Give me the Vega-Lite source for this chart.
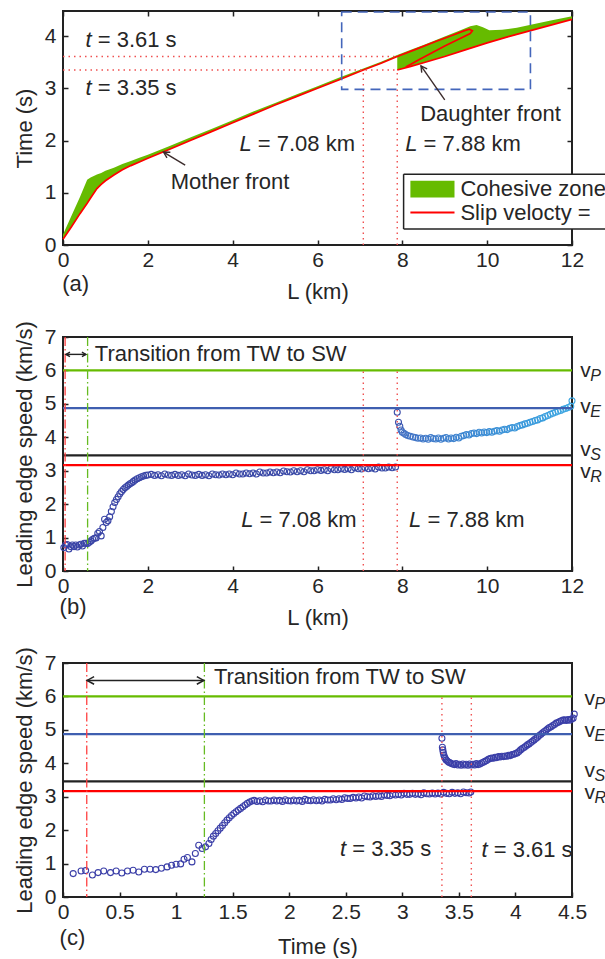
{
"$schema": "https://vega.github.io/schema/vega-lite/v6.json",
"padding": {"left": 12, "top": 9, "right": 0, "bottom": 0},
"spacing": 92,
"bounds": "flush",
"config": {
  "font": "Liberation Sans",
  "view": {"stroke": "#222222", "strokeWidth": 2},
  "axis": {"grid": false, "domain": false, "tickColor": "#222222", "tickWidth": 1.5, "tickSize": -5, "labelFontSize": 21, "labelColor": "#262626", "labelPadding": 12, "labelFlush": false, "labelOverlap": false, "titleFontSize": 22, "titleFontWeight": "normal", "titleColor": "#262626", "titlePadding": 8},
  "axisX": {"labelPadding": 9},
  "text": {"fontSize": 22, "color": "#262626", "baseline": "middle", "align": "left"}
},
"datasets": {
  "cohA": [
    {"seg":"m","L":0,"lo":0.11,"hi":0.2},{"seg":"m","L":0.2,"lo":0.35,"hi":0.56},{"seg":"m","L":0.4,"lo":0.6,"hi":0.92},{"seg":"m","L":0.57,"lo":0.8,"hi":1.25},{"seg":"m","L":0.65,"lo":0.9,"hi":1.29},{"seg":"m","L":0.8,"lo":1.08,"hi":1.35},{"seg":"m","L":0.9,"lo":1.16,"hi":1.38},{"seg":"m","L":1.0,"lo":1.23,"hi":1.42},{"seg":"m","L":1.2,"lo":1.34,"hi":1.48},{"seg":"m","L":1.4,"lo":1.44,"hi":1.55},{"seg":"m","L":1.6,"lo":1.52,"hi":1.61},{"seg":"m","L":1.8,"lo":1.59,"hi":1.67},{"seg":"m","L":2.0,"lo":1.66,"hi":1.73},{"seg":"m","L":2.5,"lo":1.83,"hi":1.89},{"seg":"m","L":3.0,"lo":2.0,"hi":2.06},{"seg":"m","L":3.5,"lo":2.17,"hi":2.22},{"seg":"m","L":4.0,"lo":2.34,"hi":2.39},{"seg":"m","L":4.5,"lo":2.51,"hi":2.56},{"seg":"m","L":5.0,"lo":2.68,"hi":2.72},{"seg":"m","L":5.5,"lo":2.84,"hi":2.88},{"seg":"m","L":6.0,"lo":3.0,"hi":3.04},{"seg":"m","L":6.5,"lo":3.16,"hi":3.2},{"seg":"m","L":7.08,"lo":3.35,"hi":3.38},{"seg":"m","L":7.5,"lo":3.48,"hi":3.51},{"seg":"m","L":7.88,"lo":3.61,"hi":3.64},
    {"seg":"d","L":7.88,"lo":3.35,"hi":3.64},{"seg":"d","L":8.2,"lo":3.42,"hi":3.74},{"seg":"d","L":8.5,"lo":3.49,"hi":3.83},{"seg":"d","L":9.0,"lo":3.61,"hi":3.99},{"seg":"d","L":9.4,"lo":3.71,"hi":4.12},{"seg":"d","L":9.6,"lo":3.76,"hi":4.19},{"seg":"d","L":9.75,"lo":3.8,"hi":4.21},{"seg":"d","L":9.9,"lo":3.84,"hi":4.17},{"seg":"d","L":10.05,"lo":3.88,"hi":4.11},{"seg":"d","L":10.35,"lo":3.95,"hi":4.12},{"seg":"d","L":10.7,"lo":4.03,"hi":4.16},{"seg":"d","L":11.0,"lo":4.1,"hi":4.21},{"seg":"d","L":11.5,"lo":4.21,"hi":4.3},{"seg":"d","L":12.0,"lo":4.32,"hi":4.38}
  ],
  "frontA": [
    {"seg":"m","o":0,"L":0,"t":0.11},{"seg":"m","o":1,"L":0.2,"t":0.35},{"seg":"m","o":2,"L":0.4,"t":0.6},{"seg":"m","o":3,"L":0.57,"t":0.8},{"seg":"m","o":4,"L":0.65,"t":0.9},{"seg":"m","o":5,"L":0.8,"t":1.08},{"seg":"m","o":6,"L":0.9,"t":1.16},{"seg":"m","o":7,"L":1.0,"t":1.23},{"seg":"m","o":8,"L":1.2,"t":1.34},{"seg":"m","o":9,"L":1.4,"t":1.44},{"seg":"m","o":10,"L":1.6,"t":1.52},{"seg":"m","o":11,"L":1.8,"t":1.59},{"seg":"m","o":12,"L":2.0,"t":1.66},{"seg":"m","o":13,"L":2.5,"t":1.83},{"seg":"m","o":14,"L":3.0,"t":2.0},{"seg":"m","o":15,"L":3.5,"t":2.17},{"seg":"m","o":16,"L":4.0,"t":2.34},{"seg":"m","o":17,"L":4.5,"t":2.51},{"seg":"m","o":18,"L":5.0,"t":2.68},{"seg":"m","o":19,"L":5.5,"t":2.84},{"seg":"m","o":20,"L":6.0,"t":3.0},{"seg":"m","o":21,"L":6.5,"t":3.16},{"seg":"m","o":22,"L":7.08,"t":3.35},{"seg":"m","o":23,"L":7.5,"t":3.48},{"seg":"m","o":24,"L":7.88,"t":3.61},{"seg":"m","o":25,"L":8.3,"t":3.74},{"seg":"m","o":26,"L":8.8,"t":3.9},{"seg":"m","o":27,"L":9.2,"t":4.02},{"seg":"m","o":28,"L":9.45,"t":4.1},{"seg":"m","o":29,"L":9.58,"t":4.13},{"seg":"m","o":30,"L":9.65,"t":4.1},{"seg":"m","o":31,"L":9.6,"t":4.05},{"seg":"m","o":32,"L":9.35,"t":3.95},{"seg":"m","o":33,"L":9.0,"t":3.81},{"seg":"m","o":34,"L":8.7,"t":3.68},{"seg":"m","o":35,"L":8.4,"t":3.55},{"seg":"m","o":36,"L":8.2,"t":3.46},{"seg":"m","o":37,"L":8.08,"t":3.41},
    {"seg":"d","o":0,"L":7.88,"t":3.35},{"seg":"d","o":1,"L":8.2,"t":3.42},{"seg":"d","o":2,"L":8.5,"t":3.49},{"seg":"d","o":3,"L":9.0,"t":3.61},{"seg":"d","o":4,"L":9.5,"t":3.74},{"seg":"d","o":5,"L":10.0,"t":3.87},{"seg":"d","o":6,"L":10.5,"t":3.99},{"seg":"d","o":7,"L":11.0,"t":4.1},{"seg":"d","o":8,"L":11.5,"t":4.21},{"seg":"d","o":9,"L":12.0,"t":4.32}
  ],
  "bData": [
    {"L":0.02,"v":0.70},{"L":0.06,"v":0.78},{"L":0.10,"v":0.79},{"L":0.14,"v":0.66},{"L":0.18,"v":0.73},{"L":0.22,"v":0.78},{"L":0.26,"v":0.73},{"L":0.30,"v":0.78},{"L":0.34,"v":0.72},{"L":0.38,"v":0.78},{"L":0.42,"v":0.80},{"L":0.46,"v":0.75},{"L":0.50,"v":0.83},{"L":0.54,"v":0.83},{"L":0.58,"v":0.82},{"L":0.62,"v":0.86},{"L":0.66,"v":0.90},{"L":0.70,"v":0.95},{"L":0.74,"v":0.98},{"L":0.78,"v":0.99},{"L":0.82,"v":1.13},{"L":0.86,"v":1.18},{"L":0.90,"v":1.05},{"L":0.94,"v":1.30},{"L":0.98,"v":1.55},{"L":1.02,"v":1.45},{"L":1.06,"v":1.50},{"L":1.10,"v":1.62},{"L":1.14,"v":1.78},{"L":1.18,"v":1.92},{"L":1.22,"v":2.05},{"L":1.26,"v":2.14},{"L":1.30,"v":2.22},{"L":1.34,"v":2.31},{"L":1.38,"v":2.38},{"L":1.42,"v":2.44},{"L":1.46,"v":2.49},{"L":1.50,"v":2.53},{"L":1.54,"v":2.57},{"L":1.58,"v":2.61},{"L":1.62,"v":2.64},{"L":1.66,"v":2.68},{"L":1.70,"v":2.72},{"L":1.75,"v":2.76},{"L":1.80,"v":2.79},{"L":1.85,"v":2.82},{"L":1.90,"v":2.84},{"L":1.95,"v":2.86},{"L":2.00,"v":2.87},
    {"L":2.08,"v":2.89},{"L":2.16,"v":2.86},{"L":2.24,"v":2.88},{"L":2.32,"v":2.85},{"L":2.40,"v":2.90},{"L":2.48,"v":2.87},{"L":2.56,"v":2.86},{"L":2.64,"v":2.89},{"L":2.72,"v":2.86},{"L":2.80,"v":2.88},{"L":2.88,"v":2.85},{"L":2.96,"v":2.90},{"L":3.04,"v":2.87},{"L":3.12,"v":2.86},{"L":3.20,"v":2.89},{"L":3.28,"v":2.86},{"L":3.36,"v":2.88},{"L":3.44,"v":2.85},{"L":3.52,"v":2.90},{"L":3.60,"v":2.88},{"L":3.68,"v":2.87},{"L":3.76,"v":2.90},{"L":3.84,"v":2.88},{"L":3.92,"v":2.90},{"L":4.00,"v":2.88},{"L":4.08,"v":2.93},{"L":4.16,"v":2.90},{"L":4.24,"v":2.90},{"L":4.32,"v":2.93},{"L":4.40,"v":2.91},{"L":4.48,"v":2.93},{"L":4.56,"v":2.90},{"L":4.64,"v":2.96},{"L":4.72,"v":2.93},{"L":4.80,"v":2.93},{"L":4.88,"v":2.96},{"L":4.96,"v":2.94},{"L":5.04,"v":2.96},{"L":5.12,"v":2.94},{"L":5.20,"v":2.99},{"L":5.28,"v":2.97},{"L":5.36,"v":2.96},{"L":5.44,"v":3.00},{"L":5.52,"v":2.97},{"L":5.60,"v":3.00},{"L":5.68,"v":2.97},{"L":5.76,"v":3.03},{"L":5.84,"v":3.00},{"L":5.92,"v":3.00},{"L":6.00,"v":3.03},{"L":6.08,"v":3.01},{"L":6.16,"v":3.03},{"L":6.24,"v":3.00},{"L":6.32,"v":3.06},{"L":6.40,"v":3.03},{"L":6.48,"v":3.03},{"L":6.56,"v":3.06},{"L":6.64,"v":3.04},{"L":6.72,"v":3.06},{"L":6.80,"v":3.03},{"L":6.88,"v":3.09},{"L":6.96,"v":3.06},{"L":7.04,"v":3.05},{"L":7.12,"v":3.09},{"L":7.20,"v":3.06},{"L":7.28,"v":3.08},{"L":7.36,"v":3.05},{"L":7.44,"v":3.11},{"L":7.52,"v":3.08},{"L":7.60,"v":3.08},{"L":7.68,"v":3.11},{"L":7.76,"v":3.09},{"L":7.84,"v":3.11},
    {"L":7.88,"v":4.75},{"L":7.91,"v":4.45},{"L":7.94,"v":4.33},{"L":7.97,"v":4.22},{"L":8.00,"v":4.15},{"L":8.04,"v":4.12},{"L":8.08,"v":4.08},{"L":8.13,"v":4.05},{"L":8.19,"v":4.03},{"L":8.25,"v":4.01},{"L":8.31,"v":3.99},{"L":8.37,"v":3.97},{"L":8.43,"v":3.98},{"L":8.49,"v":3.95},{"L":8.55,"v":3.97},{"L":8.61,"v":3.94},{"L":8.67,"v":3.99},{"L":8.73,"v":3.96},{"L":8.79,"v":3.95},{"L":8.85,"v":3.98},{"L":8.91,"v":3.94},{"L":8.97,"v":3.97},{"L":9.03,"v":3.99},{"L":9.09,"v":3.95},{"L":9.15,"v":3.98},{"L":9.21,"v":3.96},{"L":9.27,"v":4.00},{"L":9.33,"v":3.98},{"L":9.39,"v":4.03},{"L":9.45,"v":4.05},{"L":9.51,"v":4.08},{"L":9.57,"v":4.07},{"L":9.63,"v":4.11},{"L":9.69,"v":4.13},{"L":9.75,"v":4.11},{"L":9.81,"v":4.15},{"L":9.87,"v":4.13},{"L":9.93,"v":4.16},{"L":9.99,"v":4.14},{"L":10.05,"v":4.17},{"L":10.11,"v":4.15},{"L":10.17,"v":4.18},{"L":10.23,"v":4.20},{"L":10.29,"v":4.18},{"L":10.35,"v":4.22},{"L":10.41,"v":4.24},{"L":10.47,"v":4.23},{"L":10.53,"v":4.27},{"L":10.59,"v":4.29},{"L":10.65,"v":4.28},{"L":10.71,"v":4.32},{"L":10.77,"v":4.35},{"L":10.83,"v":4.37},{"L":10.89,"v":4.40},{"L":10.95,"v":4.42},{"L":11.01,"v":4.45},{"L":11.07,"v":4.47},{"L":11.13,"v":4.50},{"L":11.19,"v":4.52},{"L":11.25,"v":4.56},{"L":11.31,"v":4.58},{"L":11.37,"v":4.62},{"L":11.43,"v":4.65},{"L":11.49,"v":4.69},{"L":11.55,"v":4.72},{"L":11.61,"v":4.75},{"L":11.67,"v":4.78},{"L":11.73,"v":4.80},{"L":11.79,"v":4.84},{"L":11.85,"v":4.86},{"L":11.91,"v":4.89},{"L":11.97,"v":4.93},{"L":12.00,"v":5.09}
  ],
  "cData": [
    {"t":0.09,"v":0.70},{"t":0.16,"v":0.78},{"t":0.20,"v":0.79},{"t":0.26,"v":0.66},{"t":0.31,"v":0.73},{"t":0.36,"v":0.78},{"t":0.42,"v":0.73},{"t":0.47,"v":0.78},{"t":0.52,"v":0.72},{"t":0.57,"v":0.78},{"t":0.62,"v":0.80},{"t":0.67,"v":0.75},{"t":0.72,"v":0.83},{"t":0.77,"v":0.83},{"t":0.82,"v":0.82},{"t":0.87,"v":0.86},{"t":0.92,"v":0.90},{"t":0.96,"v":0.95},{"t":1.00,"v":0.98},{"t":1.04,"v":0.99},{"t":1.07,"v":1.13},{"t":1.10,"v":1.18},{"t":1.14,"v":1.05},{"t":1.17,"v":1.30},{"t":1.20,"v":1.55},{"t":1.23,"v":1.45},
    {"t":1.26,"v":1.50},{"t":1.29,"v":1.60},{"t":1.31,"v":1.72},{"t":1.33,"v":1.82},{"t":1.35,"v":1.90},{"t":1.37,"v":1.98},{"t":1.39,"v":2.06},{"t":1.41,"v":2.14},{"t":1.43,"v":2.22},{"t":1.45,"v":2.30},{"t":1.47,"v":2.37},{"t":1.49,"v":2.44},{"t":1.51,"v":2.50},{"t":1.53,"v":2.55},{"t":1.55,"v":2.60},{"t":1.57,"v":2.65},{"t":1.59,"v":2.70},{"t":1.61,"v":2.75},{"t":1.63,"v":2.80},{"t":1.65,"v":2.84},{"t":1.67,"v":2.87},
    {"t":1.690,"v":2.89},{"t":1.715,"v":2.86},{"t":1.740,"v":2.88},{"t":1.765,"v":2.85},{"t":1.790,"v":2.90},{"t":1.815,"v":2.87},{"t":1.840,"v":2.87},{"t":1.865,"v":2.90},{"t":1.890,"v":2.87},{"t":1.915,"v":2.89},{"t":1.940,"v":2.86},{"t":1.965,"v":2.91},{"t":1.990,"v":2.88},{"t":2.015,"v":2.87},{"t":2.040,"v":2.90},{"t":2.065,"v":2.87},{"t":2.090,"v":2.89},{"t":2.115,"v":2.86},{"t":2.140,"v":2.92},{"t":2.165,"v":2.89},{"t":2.190,"v":2.88},{"t":2.215,"v":2.91},{"t":2.240,"v":2.88},{"t":2.265,"v":2.90},{"t":2.290,"v":2.87},{"t":2.315,"v":2.92},{"t":2.340,"v":2.90},{"t":2.365,"v":2.90},{"t":2.390,"v":2.94},{"t":2.415,"v":2.91},{"t":2.440,"v":2.94},{"t":2.465,"v":2.92},{"t":2.490,"v":2.97},{"t":2.515,"v":2.95},{"t":2.540,"v":2.95},{"t":2.565,"v":2.98},{"t":2.590,"v":2.96},{"t":2.615,"v":2.99},{"t":2.640,"v":2.96},{"t":2.665,"v":3.02},{"t":2.690,"v":3.00},{"t":2.715,"v":2.99},{"t":2.740,"v":3.03},{"t":2.765,"v":3.01},{"t":2.790,"v":3.03},{"t":2.815,"v":3.01},{"t":2.840,"v":3.06},{"t":2.865,"v":3.04},{"t":2.890,"v":3.03},{"t":2.915,"v":3.07},{"t":2.940,"v":3.05},{"t":2.965,"v":3.07},{"t":2.990,"v":3.05},{"t":3.015,"v":3.10},{"t":3.040,"v":3.07},{"t":3.065,"v":3.07},{"t":3.090,"v":3.10},{"t":3.115,"v":3.07},{"t":3.140,"v":3.09},{"t":3.165,"v":3.06},{"t":3.190,"v":3.12},{"t":3.215,"v":3.09},{"t":3.240,"v":3.08},{"t":3.265,"v":3.11},{"t":3.290,"v":3.08},{"t":3.315,"v":3.11},{"t":3.340,"v":3.08},{"t":3.365,"v":3.13},{"t":3.390,"v":3.10},{"t":3.415,"v":3.09},{"t":3.440,"v":3.13},{"t":3.465,"v":3.10},{"t":3.490,"v":3.12},{"t":3.515,"v":3.09},{"t":3.540,"v":3.14},{"t":3.565,"v":3.12},{"t":3.590,"v":3.11},{"t":3.605,"v":3.14},
    {"t":3.350,"v":4.75},{"t":3.354,"v":4.48},{"t":3.358,"v":4.40},{"t":3.362,"v":4.32},{"t":3.367,"v":4.25},{"t":3.373,"v":4.19},{"t":3.380,"v":4.14},{"t":3.388,"v":4.10},{"t":3.397,"v":4.07},{"t":3.407,"v":4.04},{"t":3.418,"v":4.02},{"t":3.430,"v":4.00},{"t":3.445,"v":3.98},{"t":3.460,"v":3.96},{"t":3.475,"v":3.99},{"t":3.490,"v":3.95},{"t":3.505,"v":3.97},{"t":3.520,"v":3.94},{"t":3.535,"v":3.98},{"t":3.550,"v":3.95},{"t":3.565,"v":3.97},{"t":3.580,"v":3.94},{"t":3.595,"v":3.98},{"t":3.610,"v":3.95},{"t":3.625,"v":3.97},{"t":3.640,"v":3.95},{"t":3.655,"v":3.99},{"t":3.670,"v":3.96},{"t":3.685,"v":3.98},{"t":3.700,"v":4.01},{"t":3.715,"v":4.03},{"t":3.730,"v":4.06},{"t":3.745,"v":4.08},{"t":3.760,"v":4.12},{"t":3.775,"v":4.14},{"t":3.790,"v":4.16},{"t":3.805,"v":4.15},{"t":3.820,"v":4.18},{"t":3.835,"v":4.17},{"t":3.850,"v":4.20},{"t":3.865,"v":4.19},{"t":3.880,"v":4.21},{"t":3.895,"v":4.20},{"t":3.910,"v":4.22},{"t":3.925,"v":4.21},{"t":3.940,"v":4.24},{"t":3.955,"v":4.23},{"t":3.970,"v":4.26},{"t":3.985,"v":4.27},{"t":4.000,"v":4.29},{"t":4.015,"v":4.31},{"t":4.030,"v":4.35},{"t":4.045,"v":4.40},{"t":4.060,"v":4.44},{"t":4.075,"v":4.47},{"t":4.090,"v":4.51},{"t":4.105,"v":4.55},{"t":4.120,"v":4.58},{"t":4.135,"v":4.62},{"t":4.150,"v":4.66},{"t":4.165,"v":4.70},{"t":4.180,"v":4.74},{"t":4.195,"v":4.78},{"t":4.210,"v":4.83},{"t":4.225,"v":4.87},{"t":4.240,"v":4.91},{"t":4.255,"v":4.95},{"t":4.270,"v":4.99},{"t":4.285,"v":5.03},{"t":4.300,"v":5.07},{"t":4.315,"v":5.09},{"t":4.330,"v":5.13},{"t":4.345,"v":5.16},{"t":4.360,"v":5.20},{"t":4.375,"v":5.22},{"t":4.390,"v":5.25},{"t":4.405,"v":5.27},{"t":4.420,"v":5.29},{"t":4.435,"v":5.30},{"t":4.450,"v":5.28},{"t":4.465,"v":5.31},{"t":4.480,"v":5.29},{"t":4.495,"v":5.32},{"t":4.510,"v":5.35},{"t":4.520,"v":5.47}
  ],
  "waves": [{"k":"P","v":6.0},{"k":"E","v":4.87},{"k":"S","v":3.46},{"k":"R","v":3.17}],
  "wlabB": [{"k":"P","ly":5.97},{"k":"E","ly":4.92},{"k":"S","ly":3.62},{"k":"R","ly":2.95}],
  "wlabC": [{"k":"P","ly":5.93},{"k":"E","ly":4.98},{"k":"S","ly":3.78},{"k":"R","ly":3.1}]
},
"vconcat": [
{
  "width": 509, "height": 234,
  "resolve": {"axis": {"x": "independent", "y": "independent"}},
  "layer": [
    {"data": {"name": "cohA"}, "mark": {"type": "area", "color": "#66bb00", "opacity": 1},
     "encoding": {
       "x": {"field": "L", "type": "quantitative", "scale": {"domain": [0, 12], "nice": false, "zero": false}, "axis": {"values": [0,2,4,6,8,10,12], "title": "L (km)", "format": "~g", "labelOverlap": false, "titlePadding": 11}},
       "y": {"field": "lo", "type": "quantitative", "scale": {"domain": [0, 4.48], "nice": false, "zero": false}, "axis": {"values": [0,1,2,3,4], "title": "Time (s)", "format": "~g", "labelOverlap": false}},
       "y2": {"field": "hi"},
       "detail": {"field": "seg"}}},
    {"data": {"name": "frontA"}, "mark": {"type": "line", "color": "#ff0000", "strokeWidth": 1.7},
     "encoding": {
       "x": {"field": "L", "type": "quantitative", "axis": {"orient": "top", "labels": false, "title": null, "values": [0,2,4,6,8,10,12]}},
       "y": {"field": "t", "type": "quantitative", "axis": {"orient": "right", "labels": false, "title": null, "values": [0,1,2,3,4]}},
       "detail": {"field": "seg"}, "order": {"field": "o"}}},
    {"data": {"values": [{"x":0,"x2":7.88,"y":3.61,"y2":3.61},{"x":0,"x2":7.88,"y":3.35,"y2":3.35},{"x":7.08,"x2":7.08,"y":0,"y2":3.35},{"x":7.88,"x2":7.88,"y":0,"y2":3.35}]},
     "mark": {"type": "rule", "color": "#f05050", "strokeDash": [1.5, 4], "strokeWidth": 1.4},
     "encoding": {"x": {"field": "x", "type": "quantitative", "axis": null}, "x2": {"field": "x2"}, "y": {"field": "y", "type": "quantitative", "axis": null}, "y2": {"field": "y2"}}},
    {"data": {"values": [{"x":6.57,"x2":11.02,"y":2.98,"y2":4.46}]},
     "mark": {"type": "rect", "fill": null, "fillOpacity": 0, "stroke": "#4466bb", "strokeDash": [10, 6], "strokeWidth": 1.6},
     "encoding": {"x": {"field": "x", "type": "quantitative", "axis": null}, "x2": {"field": "x2"}, "y": {"field": "y", "type": "quantitative", "axis": null}, "y2": {"field": "y2"}}},
    {"data": {"values": [{"name":"m","x":2.88,"y":1.53,"x2":2.37,"y2":1.78},{"name":"d","x":9.0,"y":2.78,"x2":8.44,"y2":3.43}]},
     "mark": {"type": "rule", "color": "#3b2b2b", "strokeWidth": 1.4},
     "encoding": {"x": {"field": "x", "type": "quantitative", "axis": null}, "x2": {"field": "x2"}, "y": {"field": "y", "type": "quantitative", "axis": null}, "y2": {"field": "y2"}}},
    {"data": {"values": [{"name":"m","x2":2.37,"y2":1.78}]},
     "mark": {"type": "point", "shape": "M-1,-0.55L0,0L-1,0.55", "filled": false, "size": 144, "strokeWidth": 1.4, "color": "#3b2b2b", "opacity": 1, "angle": 211},
     "encoding": {"x": {"field": "x2", "type": "quantitative", "axis": null}, "y": {"field": "y2", "type": "quantitative", "axis": null}}},
    {"data": {"values": [{"name":"d","x2":8.44,"y2":3.43}]},
     "mark": {"type": "point", "shape": "M-1,-0.55L0,0L-1,0.55", "filled": false, "size": 144, "strokeWidth": 1.4, "color": "#3b2b2b", "opacity": 1, "angle": 235},
     "encoding": {"x": {"field": "x2", "type": "quantitative", "axis": null}, "y": {"field": "y2", "type": "quantitative", "axis": null}}},
    {"data": {"values": [{"x":2.54,"y":1.21,"label":"Mother front"},{"x":8.42,"y":2.5,"label":"Daughter front"},{"x":-0.02,"y":-0.75,"label":"(a)"}]},
     "mark": {"type": "text", "align": "left"},
     "encoding": {"x": {"field": "x", "type": "quantitative", "axis": null}, "y": {"field": "y", "type": "quantitative", "axis": null}, "text": {"field": "label"}}},
    {"data": {"values": [{"x":0.53,"y":3.92,"rest":"= 3.61 s"},{"x":0.53,"y":3.01,"rest":"= 3.35 s"}]},
     "layer": [
       {"mark": {"type": "text", "text": "t", "fontStyle": "italic"}, "encoding": {"x": {"field": "x", "type": "quantitative", "axis": null}, "y": {"field": "y", "type": "quantitative", "axis": null}}},
       {"mark": {"type": "text", "dx": 12.2}, "encoding": {"x": {"field": "x", "type": "quantitative", "axis": null}, "y": {"field": "y", "type": "quantitative", "axis": null}, "text": {"field": "rest"}}}
     ]},
    {"data": {"values": [{"x":4.16,"y":1.94,"rest":"= 7.08 km"},{"x":8.07,"y":1.93,"rest":"= 7.88 km"}]},
     "layer": [
       {"mark": {"type": "text", "text": "L", "fontStyle": "italic"}, "encoding": {"x": {"field": "x", "type": "quantitative", "axis": null}, "y": {"field": "y", "type": "quantitative", "axis": null}}},
       {"mark": {"type": "text", "dx": 18.3}, "encoding": {"x": {"field": "x", "type": "quantitative", "axis": null}, "y": {"field": "y", "type": "quantitative", "axis": null}, "text": {"field": "rest"}}}
     ]},
    {"data": {"values": [{"x":8.03,"x2":12.82,"y":0.306,"y2":1.356}]},
     "mark": {"type": "rect", "fill": "white", "opacity": 1},
     "encoding": {"x": {"field": "x", "type": "quantitative", "axis": null}, "x2": {"field": "x2"}, "y": {"field": "y", "type": "quantitative", "axis": null}, "y2": {"field": "y2"}}},
    {"data": {"values": [{"x":8.03,"x2":12.82,"y":1.356,"y2":1.356},{"x":8.03,"x2":12.82,"y":0.306,"y2":0.306},{"x":8.03,"x2":8.03,"y":0.306,"y2":1.356}]},
     "mark": {"type": "rule", "color": "#222222", "strokeWidth": 1.5},
     "encoding": {"x": {"field": "x", "type": "quantitative", "axis": null}, "x2": {"field": "x2"}, "y": {"field": "y", "type": "quantitative", "axis": null}, "y2": {"field": "y2"}}},
    {"data": {"values": [{"x":8.19,"x2":9.23,"y":0.91,"y2":1.23}]},
     "mark": {"type": "rect", "fill": "#66bb00", "opacity": 1},
     "encoding": {"x": {"field": "x", "type": "quantitative", "axis": null}, "x2": {"field": "x2"}, "y": {"field": "y", "type": "quantitative", "axis": null}, "y2": {"field": "y2"}}},
    {"data": {"values": [{"x":8.19,"x2":9.23,"y":0.62}]},
     "mark": {"type": "rule", "color": "#ff0000", "strokeWidth": 2},
     "encoding": {"x": {"field": "x", "type": "quantitative", "axis": null}, "x2": {"field": "x2"}, "y": {"field": "y", "type": "quantitative", "axis": null}}},
    {"data": {"values": [{"x":9.37,"y":1.07,"label":"Cohesive zone"},{"x":9.37,"y":0.62,"label":"Slip velocty = 0"}]},
     "mark": {"type": "text", "limit": 146, "ellipsis": "\u200b"},
     "encoding": {"x": {"field": "x", "type": "quantitative", "axis": null}, "y": {"field": "y", "type": "quantitative", "axis": null}, "text": {"field": "label"}}}
  ]
},
{
  "width": 509, "height": 234,
  "resolve": {"axis": {"x": "independent", "y": "independent"}},
  "layer": [
    {"data": {"name": "bData"}, "mark": {"type": "point", "filled": false, "size": 36, "strokeWidth": 1.1, "opacity": 1},
     "encoding": {
       "x": {"field": "L", "type": "quantitative", "scale": {"domain": [0, 12], "nice": false, "zero": false}, "axis": {"values": [0,2,4,6,8,10,12], "title": "L (km)", "format": "~g", "labelOverlap": false, "titlePadding": 11}},
       "y": {"field": "v", "type": "quantitative", "scale": {"domain": [0, 7], "nice": false, "zero": false}, "axis": {"values": [0,1,2,3,4,5,6,7], "title": "Leading edge speed (km/s)", "format": "~g", "labelOverlap": false}},
       "color": {"field": "L", "type": "quantitative", "scale": {"domain": [0, 7.9, 8, 12], "range": ["#3a44a6", "#3a4ca8", "#4472c4", "#3ea8e2"]}, "legend": null}}},
    {"data": {"name": "waves"}, "mark": {"type": "rule", "strokeWidth": 2.2},
     "encoding": {"y": {"field": "v", "type": "quantitative", "axis": null}, "stroke": {"field": "k", "type": "nominal", "scale": {"domain": ["P","E","S","R"], "range": ["#66bb00","#3f5fb0","#222222","#ff0000"]}, "legend": null}}},
    {"data": {"values": [{"L": 0.05}]}, "mark": {"type": "rule", "color": "#ff4040", "strokeDash": [9, 3, 1.5, 3], "strokeWidth": 1.3},
     "encoding": {"x": {"field": "L", "type": "quantitative", "axis": null}}},
    {"data": {"values": [{"L": 0.58}]}, "mark": {"type": "rule", "color": "#66bb22", "strokeDash": [9, 3, 1.5, 3], "strokeWidth": 1.3},
     "encoding": {"x": {"field": "L", "type": "quantitative", "axis": null}}},
    {"data": {"values": [{"L": 7.08}, {"L": 7.88}]}, "mark": {"type": "rule", "color": "#f05050", "strokeDash": [1.5, 4], "strokeWidth": 1.4},
     "encoding": {"x": {"field": "L", "type": "quantitative", "axis": null}, "y": {"datum": 0, "axis": null}, "y2": {"datum": 6}}},
    {"data": {"values": [{"x1": 0.07, "x2": 0.54, "y": 6.48}]},
     "layer": [
       {"mark": {"type": "rule", "color": "#222222", "strokeWidth": 1.4}, "encoding": {"x": {"field": "x1", "type": "quantitative", "axis": null}, "x2": {"field": "x2"}, "y": {"field": "y", "type": "quantitative", "axis": null}}},
       {"mark": {"type": "point", "shape": "M-1,-0.55L0,0L-1,0.55", "filled": false, "size": 64, "strokeWidth": 1.4, "color": "#222222", "opacity": 1, "angle": 0}, "encoding": {"x": {"field": "x2", "type": "quantitative", "axis": null}, "y": {"field": "y", "type": "quantitative", "axis": null}}},
       {"mark": {"type": "point", "shape": "M-1,-0.55L0,0L-1,0.55", "filled": false, "size": 64, "strokeWidth": 1.4, "color": "#222222", "opacity": 1, "angle": 180}, "encoding": {"x": {"field": "x1", "type": "quantitative", "axis": null}, "y": {"field": "y", "type": "quantitative", "axis": null}}}
     ]},
    {"data": {"values": [{"x": 0.75, "y": 6.5, "label": "Transition from TW to SW"}, {"x": -0.08, "y": -1.08, "label": "(b)"}]},
     "mark": {"type": "text"},
     "encoding": {"x": {"field": "x", "type": "quantitative", "axis": null}, "y": {"field": "y", "type": "quantitative", "axis": null}, "text": {"field": "label"}}},
    {"data": {"values": [{"x":4.2,"y":1.53,"rest":"= 7.08 km"},{"x":8.16,"y":1.52,"rest":"= 7.88 km"}]},
     "layer": [
       {"mark": {"type": "text", "text": "L", "fontStyle": "italic"}, "encoding": {"x": {"field": "x", "type": "quantitative", "axis": null}, "y": {"field": "y", "type": "quantitative", "axis": null}}},
       {"mark": {"type": "text", "dx": 18.3}, "encoding": {"x": {"field": "x", "type": "quantitative", "axis": null}, "y": {"field": "y", "type": "quantitative", "axis": null}, "text": {"field": "rest"}}}
     ]},
    {"data": {"name": "wlabB"},
     "layer": [
       {"mark": {"type": "text", "text": "v", "fontSize": 21}, "encoding": {"x": {"datum": 12.195, "axis": null}, "y": {"field": "ly", "type": "quantitative", "axis": null}}},
       {"mark": {"type": "text", "fontSize": 16, "fontStyle": "italic", "dx": 10, "dy": 5}, "encoding": {"x": {"datum": 12.195, "axis": null}, "y": {"field": "ly", "type": "quantitative", "axis": null}, "text": {"field": "k"}}}
     ]}
  ]
},
{
  "width": 509, "height": 234,
  "resolve": {"axis": {"x": "independent", "y": "independent"}},
  "layer": [
    {"data": {"name": "cData"}, "mark": {"type": "point", "filled": false, "size": 36, "strokeWidth": 1.1, "opacity": 1, "color": "#3b3fa8"},
     "encoding": {
       "x": {"field": "t", "type": "quantitative", "scale": {"domain": [0, 4.5], "nice": false, "zero": false}, "axis": {"values": [0,0.5,1,1.5,2,2.5,3,3.5,4,4.5], "title": "Time (s)", "format": "~g", "labelOverlap": false, "titlePadding": 14}},
       "y": {"field": "v", "type": "quantitative", "scale": {"domain": [0, 7], "nice": false, "zero": false}, "axis": {"values": [0,1,2,3,4,5,6,7], "title": "Leading edge speed (km/s)", "format": "~g", "labelOverlap": false}}}},
    {"data": {"name": "waves"}, "mark": {"type": "rule", "strokeWidth": 2.2},
     "encoding": {"y": {"field": "v", "type": "quantitative", "axis": null}, "stroke": {"field": "k", "type": "nominal", "scale": {"domain": ["P","E","S","R"], "range": ["#66bb00","#3f5fb0","#222222","#ff0000"]}, "legend": null}}},
    {"data": {"values": [{"t": 0.21}]}, "mark": {"type": "rule", "color": "#ff4040", "strokeDash": [9, 3, 1.5, 3], "strokeWidth": 1.3},
     "encoding": {"x": {"field": "t", "type": "quantitative", "axis": null}}},
    {"data": {"values": [{"t": 1.25}]}, "mark": {"type": "rule", "color": "#66bb22", "strokeDash": [9, 3, 1.5, 3], "strokeWidth": 1.3},
     "encoding": {"x": {"field": "t", "type": "quantitative", "axis": null}}},
    {"data": {"values": [{"t": 3.35}, {"t": 3.61}]}, "mark": {"type": "rule", "color": "#f05050", "strokeDash": [1.5, 4], "strokeWidth": 1.4},
     "encoding": {"x": {"field": "t", "type": "quantitative", "axis": null}, "y": {"datum": 0, "axis": null}, "y2": {"datum": 6}}},
    {"data": {"values": [{"x1": 0.213, "x2": 1.245, "y": 6.48}]},
     "layer": [
       {"mark": {"type": "rule", "color": "#222222", "strokeWidth": 1.5}, "encoding": {"x": {"field": "x1", "type": "quantitative", "axis": null}, "x2": {"field": "x2"}, "y": {"field": "y", "type": "quantitative", "axis": null}}},
       {"mark": {"type": "point", "shape": "M-1,-0.55L0,0L-1,0.55", "filled": false, "size": 196, "strokeWidth": 1.5, "color": "#222222", "opacity": 1, "angle": 0}, "encoding": {"x": {"field": "x2", "type": "quantitative", "axis": null}, "y": {"field": "y", "type": "quantitative", "axis": null}}},
       {"mark": {"type": "point", "shape": "M-1,-0.55L0,0L-1,0.55", "filled": false, "size": 196, "strokeWidth": 1.5, "color": "#222222", "opacity": 1, "angle": 180}, "encoding": {"x": {"field": "x1", "type": "quantitative", "axis": null}, "y": {"field": "y", "type": "quantitative", "axis": null}}}
     ]},
    {"data": {"values": [{"x": 1.334, "y": 6.58, "label": "Transition from TW to SW"}, {"x": -0.03, "y": -1.23, "label": "(c)"}]},
     "mark": {"type": "text"},
     "encoding": {"x": {"field": "x", "type": "quantitative", "axis": null}, "y": {"field": "y", "type": "quantitative", "axis": null}, "text": {"field": "label"}}},
    {"data": {"values": [{"x":2.45,"y":1.43,"rest":"= 3.35 s"},{"x":3.7,"y":1.42,"rest":"= 3.61 s"}]},
     "layer": [
       {"mark": {"type": "text", "text": "t", "fontStyle": "italic"}, "encoding": {"x": {"field": "x", "type": "quantitative", "axis": null}, "y": {"field": "y", "type": "quantitative", "axis": null}}},
       {"mark": {"type": "text", "dx": 12.2}, "encoding": {"x": {"field": "x", "type": "quantitative", "axis": null}, "y": {"field": "y", "type": "quantitative", "axis": null}, "text": {"field": "rest"}}}
     ]},
    {"data": {"name": "wlabC"},
     "layer": [
       {"mark": {"type": "text", "text": "v", "fontSize": 21}, "encoding": {"x": {"datum": 4.61, "axis": null}, "y": {"field": "ly", "type": "quantitative", "axis": null}}},
       {"mark": {"type": "text", "fontSize": 16, "fontStyle": "italic", "dx": 10, "dy": 5}, "encoding": {"x": {"datum": 4.61, "axis": null}, "y": {"field": "ly", "type": "quantitative", "axis": null}, "text": {"field": "k"}}}
     ]}
  ]
}
]
}
